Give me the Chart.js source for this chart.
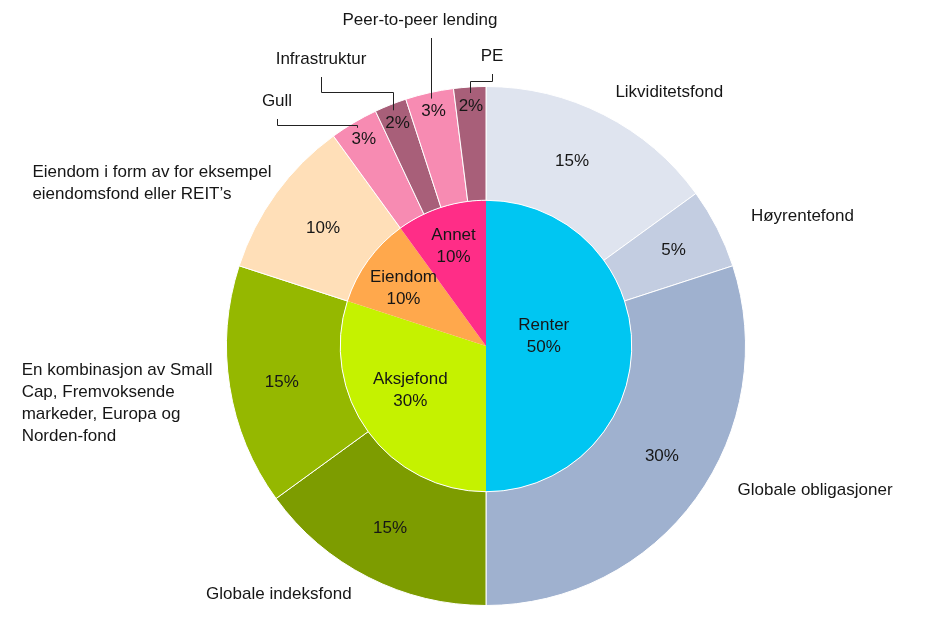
<!DOCTYPE html>
<html>
<head>
<meta charset="utf-8">
<script src="https://cdn.jsdelivr.net/npm/chart.js@4/dist/chart.umd.min.js"></script>
<style>
	html, body { margin: 0; padding: 0; background: #fff; }
	#wrap { width: 925px; height: 619px; }
</style>
</head>
<body>
<div id="wrap"><canvas id="chart" width="925" height="619"></canvas></div>
<script>
// inner ring: main asset classes
var innerLabels = ['Renter', 'Aksjefond', 'Eiendom', 'Annet'];
var innerValues = [50, 30, 10, 10];
var innerColors = ['#00c6f2', '#c5f200', '#ffa84c', '#ff2d87'];

// outer ring: sub categories
var outerLabels = [
	['Likviditetsfond'],
	['Høyrentefond'],
	['Globale obligasjoner'],
	['Globale indeksfond'],
	['En kombinasjon av Small', 'Cap, Fremvoksende', 'markeder, Europa og', 'Norden-fond'],
	['Eiendom i form av for eksempel', 'eiendomsfond eller REIT\u2019s'],
	['Gull'],
	['Infrastruktur'],
	['Peer-to-peer lending'],
	['PE']
];
var outerValues = [15, 5, 30, 15, 15, 10, 3, 2, 3, 2];
var outerColors = ['#dfe4ef', '#c3cde1', '#9fb1cf', '#7d9c00', '#95b800', '#ffdfb8', '#f78bb2', '#a85f79', '#f78bb2', '#a85f79'];

// label placement tweaks (pixels), not data
var outerNudge = [[0, 0], [11, 0], [21, -23], [-5, -6], [8, 13], [16, 5]];
var pctNudge = [[-6, -4], [7, -4], [12, -9], [-4, 2], [-4, 5], [1, 1]];
var innerRadiusFactor = [0.41, 0.6, 0.7, 0.72];
var innerNudge = [[-2, -10], [-5, -7], [0, 2], [0, 0]];
var callouts = {
	6: { elbow: -221, tx: -209, ty: -245 },
	7: { elbow: -254, tx: -165, ty: -287 },
	8: { elbow: null, tx: -66, ty: -326 },
	9: { elbow: -265, tx: 6, ty: -290 }
};

var FONT = '17px "Liberation Sans", Arial, sans-serif';
var TEXT = '#161616';

var labelPlugin = {
	id: 'sliceLabels',
	afterDatasetsDraw: function(chart) {
		var ctx = chart.ctx;
		var outer = chart.getDatasetMeta(0).data;
		var inner = chart.getDatasetMeta(1).data;
		ctx.save();
		ctx.font = FONT;
		ctx.fillStyle = TEXT;
		ctx.textBaseline = 'middle';

		_each(outer, function(arc, i) {
			var p = arc.getProps(['x', 'y', 'startAngle', 'endAngle', 'innerRadius', 'outerRadius'], true);
			var mid = (p.startAngle + p.endAngle) / 2;
			var small = outerValues[i] < 5;
			var r = small ? 240 : (p.innerRadius + p.outerRadius) / 2;
			var pn = pctNudge[i] || [0, 0];

			// percent inside the slice
			ctx.textAlign = 'center';
			ctx.fillText(outerValues[i] + '%', p.x + Math.cos(mid) * r + pn[0], p.y + Math.sin(mid) * r + pn[1]);

			var lines = outerLabels[i];
			if (callouts[i]) {
				var c = callouts[i];
				var sx = p.x + Math.cos(mid) * (p.outerRadius - 6);
				var sy = p.y + Math.sin(mid) * (p.outerRadius - 6);
				ctx.beginPath();
				ctx.strokeStyle = '#222';
				ctx.lineWidth = 1;
				ctx.moveTo(Math.round(sx) + 0.5, sy);
				if (c.elbow !== null) {
					ctx.lineTo(Math.round(sx) + 0.5, p.y + c.elbow + 0.5);
					ctx.lineTo(Math.round(p.x + c.tx) + 0.5, p.y + c.elbow + 0.5);
					ctx.lineTo(Math.round(p.x + c.tx) + 0.5, p.y + c.ty + 18);
				} else {
					ctx.lineTo(Math.round(sx) + 0.5, p.y + c.ty + 18);
				}
				ctx.stroke();
				ctx.textAlign = 'center';
				ctx.fillText(lines[0], p.x + c.tx, p.y + c.ty);
				return;
			}

			var n = outerNudge[i] || [0, 0];
			var lx = p.x + Math.cos(mid) * 285 + n[0];
			var ly = p.y + Math.sin(mid) * 285 + n[1];
			var right = Math.cos(mid) > 0;
			var w = 0;
			lines.forEach(function(l) { w = Math.max(w, ctx.measureText(l).width); });
			var left = right ? lx : lx - w;
			ctx.textAlign = 'left';
			var lh = 22;
			var y0 = ly - (lines.length - 1) * lh / 2;
			lines.forEach(function(l, k) {
				ctx.fillText(l, left, y0 + k * lh);
			});
		});

		_each(inner, function(arc, i) {
			var p = arc.getProps(['x', 'y', 'startAngle', 'endAngle', 'outerRadius'], true);
			var mid = (p.startAngle + p.endAngle) / 2;
			var r = p.outerRadius * innerRadiusFactor[i];
			var cx = p.x + Math.cos(mid) * r + innerNudge[i][0];
			var cy = p.y + Math.sin(mid) * r + innerNudge[i][1];
			ctx.textAlign = 'center';
			ctx.fillText(innerLabels[i], cx, cy - 11);
			ctx.fillText(innerValues[i] + '%', cx, cy + 11);
		});
		ctx.restore();
	}
};

function _each(arr, fn) {
	for (var i = 0; i < arr.length; i++) fn(arr[i], i);
}

var config = {
	type: 'doughnut',
	data: {
		labels: outerLabels.map(function(l) { return l.join(' '); }),
		datasets: [{
			label: 'Underkategori',
			data: outerValues,
			backgroundColor: outerColors,
			borderColor: '#ffffff',
			borderWidth: 1,
			weight: 114
		}, {
			label: 'Aktivaklasse',
			data: innerValues,
			backgroundColor: innerColors,
			borderWidth: 0,
			weight: 146
		}]
	},
	options: {
		responsive: false,
		animation: false,
		events: [],
		cutout: 0,
		layout: { padding: { left: 226, right: 179, top: 86, bottom: 13 } },
		plugins: {
			legend: { display: false },
			tooltip: { enabled: false }
		}
	},
	plugins: [labelPlugin]
};

new Chart(document.getElementById('chart').getContext('2d'), config);
</script>
</body>
</html>
